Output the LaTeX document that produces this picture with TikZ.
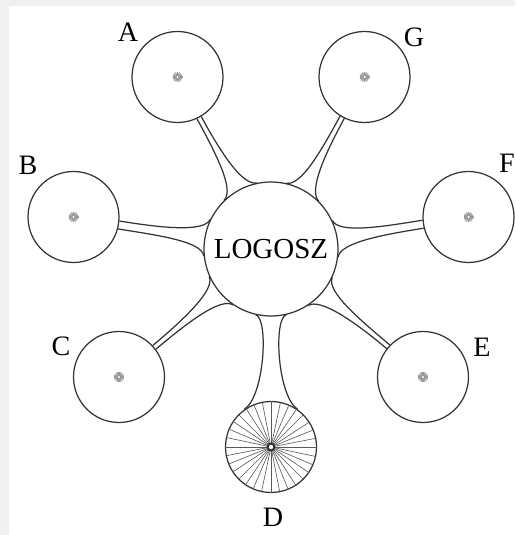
\documentclass[tikz,border=0pt]{standalone}
\usepackage{fontspec}
\setmainfont{Liberation Serif}
\usepackage{tikz}
\usetikzlibrary{calc}

\tikzset{
  ring/.style={circle,draw=black!80,line width=0.7pt,inner sep=0pt,minimum size=1.82cm},
  neck/.style={draw=black!80,line width=0.7pt},
  spoke/.style={draw=black!65,line width=0.35pt},
  lbl/.style={font=\fontsize{16}{18}\selectfont,inner sep=0pt},
}

\begin{document}
\begin{tikzpicture}[x=0.02cm,y=0.02cm]
  \useasboundingbox (0,0) rectangle (515,535);
  \fill[gray!12] (0,0) rectangle (515,535);
  \fill[white] (9,0) rectangle (515,529);

  \node[ring,minimum size=2.68cm,font=\fontsize{16.5}{18}\selectfont] (O) at (271,286) {LOGOSZ};
  \node[ring] (A) at (177.5,458) {};
  \node[ring] (G) at (364.5,458) {};
  \node[ring] (B) at (73.5,318) {};
  \node[ring] (F) at (468.5,318) {};
  \node[ring] (C) at (119,158) {};
  \node[ring] (E) at (423,158) {};
  \node[ring] (D) at (271,88) {};

  \node[lbl] (la) at (128,502.5) {A};
  \node[lbl] (lg) at (414,497.5) {G};
  \node[lbl] (lb) at (28,370) {B};
  \node[lbl] (lf) at (507,372) {F};
  \node[lbl] (lc) at (61,189) {C};
  \node[lbl] (le) at (482,188) {E};
  \node[lbl] (ld) at (273,17.5) {D};

  % necks
  \foreach \s/\t/\w in {A/118.5/3, G/61.5/3, B/170.8/5, F/9.2/5, C/220.1/3, E/319.9/3}{
    \pgfmathsetmacro{\pa}{mod(\t+16+360,360)}
    \pgfmathsetmacro{\pb}{mod(\t-16+360,360)}
    \pgfmathsetmacro{\qa}{mod(\t+180-\w,360)}
    \pgfmathsetmacro{\qb}{mod(\t+180+\w,360)}
    \pgfmathsetmacro{\oa}{mod(\t+16-90+360,360)}
    \pgfmathsetmacro{\ob}{mod(\t-16+90,360)}
    \pgfmathsetmacro{\ia}{mod(\t+180,360)}
    \draw[neck] (O.\pa) to[out=\oa,in=\ia,out distance=0.3cm,in distance=0.8cm] (\s.\qa);
    \draw[neck] (O.\pb) to[out=\ob,in=\ia,out distance=0.3cm,in distance=0.8cm] (\s.\qb);
  }
  \draw[neck] (O.257) to[out=347,in=35,out distance=0.26cm,in distance=0.5cm] (D.125);
  \draw[neck] (O.283) to[out=193,in=145,out distance=0.26cm,in distance=0.5cm] (D.55);

  % wheel D
  \foreach \k in {0,11.25,...,350}
    \draw[spoke] (D.center) -- (D.\k);
  \fill[black!80] (D.center) circle (4.5);
  \fill[white] (D.center) circle (2.2);

  \foreach \s in {A,B,C,E,F,G}{
    \foreach \k in {0,22.5,...,340}
      \draw[gray!80,line width=0.6pt] (\s.center) -- ++(\k:5);
    \fill[white] (\s.center) circle (1.2);
  }
\end{tikzpicture}
\end{document}
